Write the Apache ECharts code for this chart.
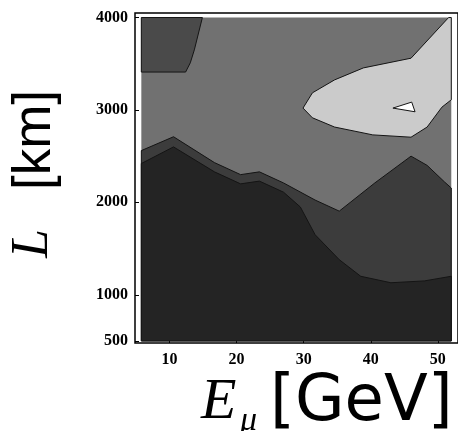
<!DOCTYPE html>
<html>
<head>
<meta charset="utf-8">
<script src="https://cdn.jsdelivr.net/npm/echarts@6/dist/echarts.min.js"></script>
<style>
  html, body { margin: 0; padding: 0; background: #fff; }
  #chart { width: 458px; height: 431px; }
</style>
</head>
<body>
<div id="chart"></div>
<script>
// Axis tick values
const energyTicks = [10, 20, 30, 40, 50];
const baselineTicks = [500, 1000, 2000, 3000, 4000];

// Plotted domain of the contour map
const energyRange = [5.8, 52];
const baselineRange = [500, 4000];

// Contour regions, drawn from darkest band upward (each one an outline in E_mu [GeV], L [km])
const band2E = [5.8, 10.6, 16.7, 20.6, 23.4, 27.0, 31.7, 35.3, 40.6, 46.0, 48.4, 51.0, 52.0, 52.0, 5.8];
const band2L = [2560, 2710, 2430, 2300, 2330, 2210, 2025, 1905, 2210, 2500, 2400, 2220, 2155, 500, 500];

const band1E = [5.8, 10.6, 16.7, 20.6, 23.4, 27.0, 29.5, 31.7, 35.3, 38.5, 43.0, 48.0, 52.0, 52.0, 5.8];
const band1L = [2420, 2600, 2330, 2200, 2230, 2110, 1950, 1650, 1380, 1200, 1130, 1150, 1200, 500, 500];

const cornerE = [5.8, 14.9, 13.7, 13.1, 12.4, 5.8];
const cornerL = [4000, 4000, 3650, 3510, 3410, 3410];

const blobE = [51.6, 52.0, 52.0, 50.6, 48.4, 46.0, 40.3, 34.6, 31.3, 29.9, 31.3, 34.6, 38.9, 46.0];
const blobL = [4000, 4000, 3110, 3030, 2815, 2705, 2730, 2815, 2915, 3020, 3185, 3325, 3455, 3560];

const peakE = [43.3, 46.1, 46.6];
const peakL = [3020, 3085, 2980];

// Fill shades, darkest to lightest
const shadeBase = '#717171';
const shades = {
  band2: '#3c3c3c',
  band1: '#242424',
  corner: '#4a4a4a',
  blob: '#cbcbcb',
  peak: '#ffffff'
};

const regions = [
  { E: band2E, L: band2L, fill: shades.band2 },
  { E: band1E, L: band1L, fill: shades.band1 },
  { E: cornerE, L: cornerL, fill: shades.corner },
  { E: blobE, L: blobL, fill: shades.blob },
  { E: peakE, L: peakL, fill: shades.peak }
];

const chart = echarts.init(document.getElementById('chart'), null, { renderer: 'canvas' });

const tickFont = {
  fontFamily: '"Liberation Serif", "Times New Roman", serif',
  fontWeight: 'bold',
  fontSize: 16,
  color: '#000'
};

chart.setOption({
  animation: false,
  backgroundColor: '#fff',
  grid: {
    left: 135, top: 13, width: 337, height: 330,
    show: true, borderColor: '#000', borderWidth: 1.5, backgroundColor: '#fff'
  },
  xAxis: {
    type: 'value',
    min: 4.857, max: 53,
    axisLine: { show: false },
    splitLine: { show: false },
    axisTick: { inside: true, length: 4, lineStyle: { color: '#000' }, customValues: energyTicks },
    axisLabel: Object.assign({ margin: 9, customValues: energyTicks, formatter: function (v) { return String(v); } }, tickFont)
  },
  yAxis: {
    type: 'value',
    min: 478, max: 4049,
    axisLine: { show: false },
    splitLine: { show: false },
    axisTick: { inside: true, length: 4, lineStyle: { color: '#000' }, customValues: baselineTicks },
    axisLabel: Object.assign({ margin: 7, customValues: baselineTicks, formatter: function (v) { return String(v); } }, tickFont)
  },
  series: [
    {
      // base shade over the whole plotted domain
      type: 'custom',
      coordinateSystem: 'cartesian2d',
      data: [[energyRange[0], baselineRange[0], energyRange[1], baselineRange[1]]],
      renderItem: function (params, api) {
        const p0 = api.coord([api.value(0), api.value(3)]);
        const p1 = api.coord([api.value(2), api.value(1)]);
        return {
          type: 'rect',
          shape: { x: p0[0], y: p0[1], width: p1[0] - p0[0], height: p1[1] - p0[1] },
          style: { fill: shadeBase }
        };
      },
      silent: true,
      z: 1
    },
    {
      type: 'custom',
      coordinateSystem: 'cartesian2d',
      data: regions.map(function (r, i) { return [r.E[0], r.L[0], i]; }),
      renderItem: function (params, api) {
        const r = regions[params.dataIndex];
        const pts = r.E.map(function (e, k) { return api.coord([e, r.L[k]]); });
        return {
          type: 'polygon',
          shape: { points: pts },
          style: { fill: r.fill, stroke: '#141414', lineWidth: 1 }
        };
      },
      clip: true,
      silent: true,
      z: 2
    }
  ],
  graphic: [
    // vertical axis title  L[km]
    {
      type: 'text', x: 59, y: 258, rotation: Math.PI / 2,
      style: { text: 'L', font: 'italic 52px "Liberation Serif", serif', fill: '#000', textAlign: 'left', textVerticalAlign: 'bottom' }
    },
    {
      type: 'text', x: 62, y: 190, rotation: Math.PI / 2,
      style: { text: '[km]', font: '53px "Liberation Sans", sans-serif', fill: '#000', textAlign: 'left', textVerticalAlign: 'bottom' }
    },
    // horizontal axis title  E_mu[GeV]
    {
      type: 'text', x: 201, y: 432,
      style: { text: 'E', font: 'italic 58px "Liberation Serif", serif', fill: '#000', textAlign: 'left', textVerticalAlign: 'bottom' }
    },
    {
      type: 'text', x: 240, y: 438,
      style: { text: 'μ', font: 'italic 34px "Liberation Serif", serif', fill: '#000', textAlign: 'left', textVerticalAlign: 'bottom' }
    },
    {
      type: 'text', x: 270, y: 435,
      style: { text: '[GeV]', font: '64px "DejaVu Sans", sans-serif', fill: '#000', textAlign: 'left', textVerticalAlign: 'bottom' }
    }
  ]
});
</script>
</body>
</html>
